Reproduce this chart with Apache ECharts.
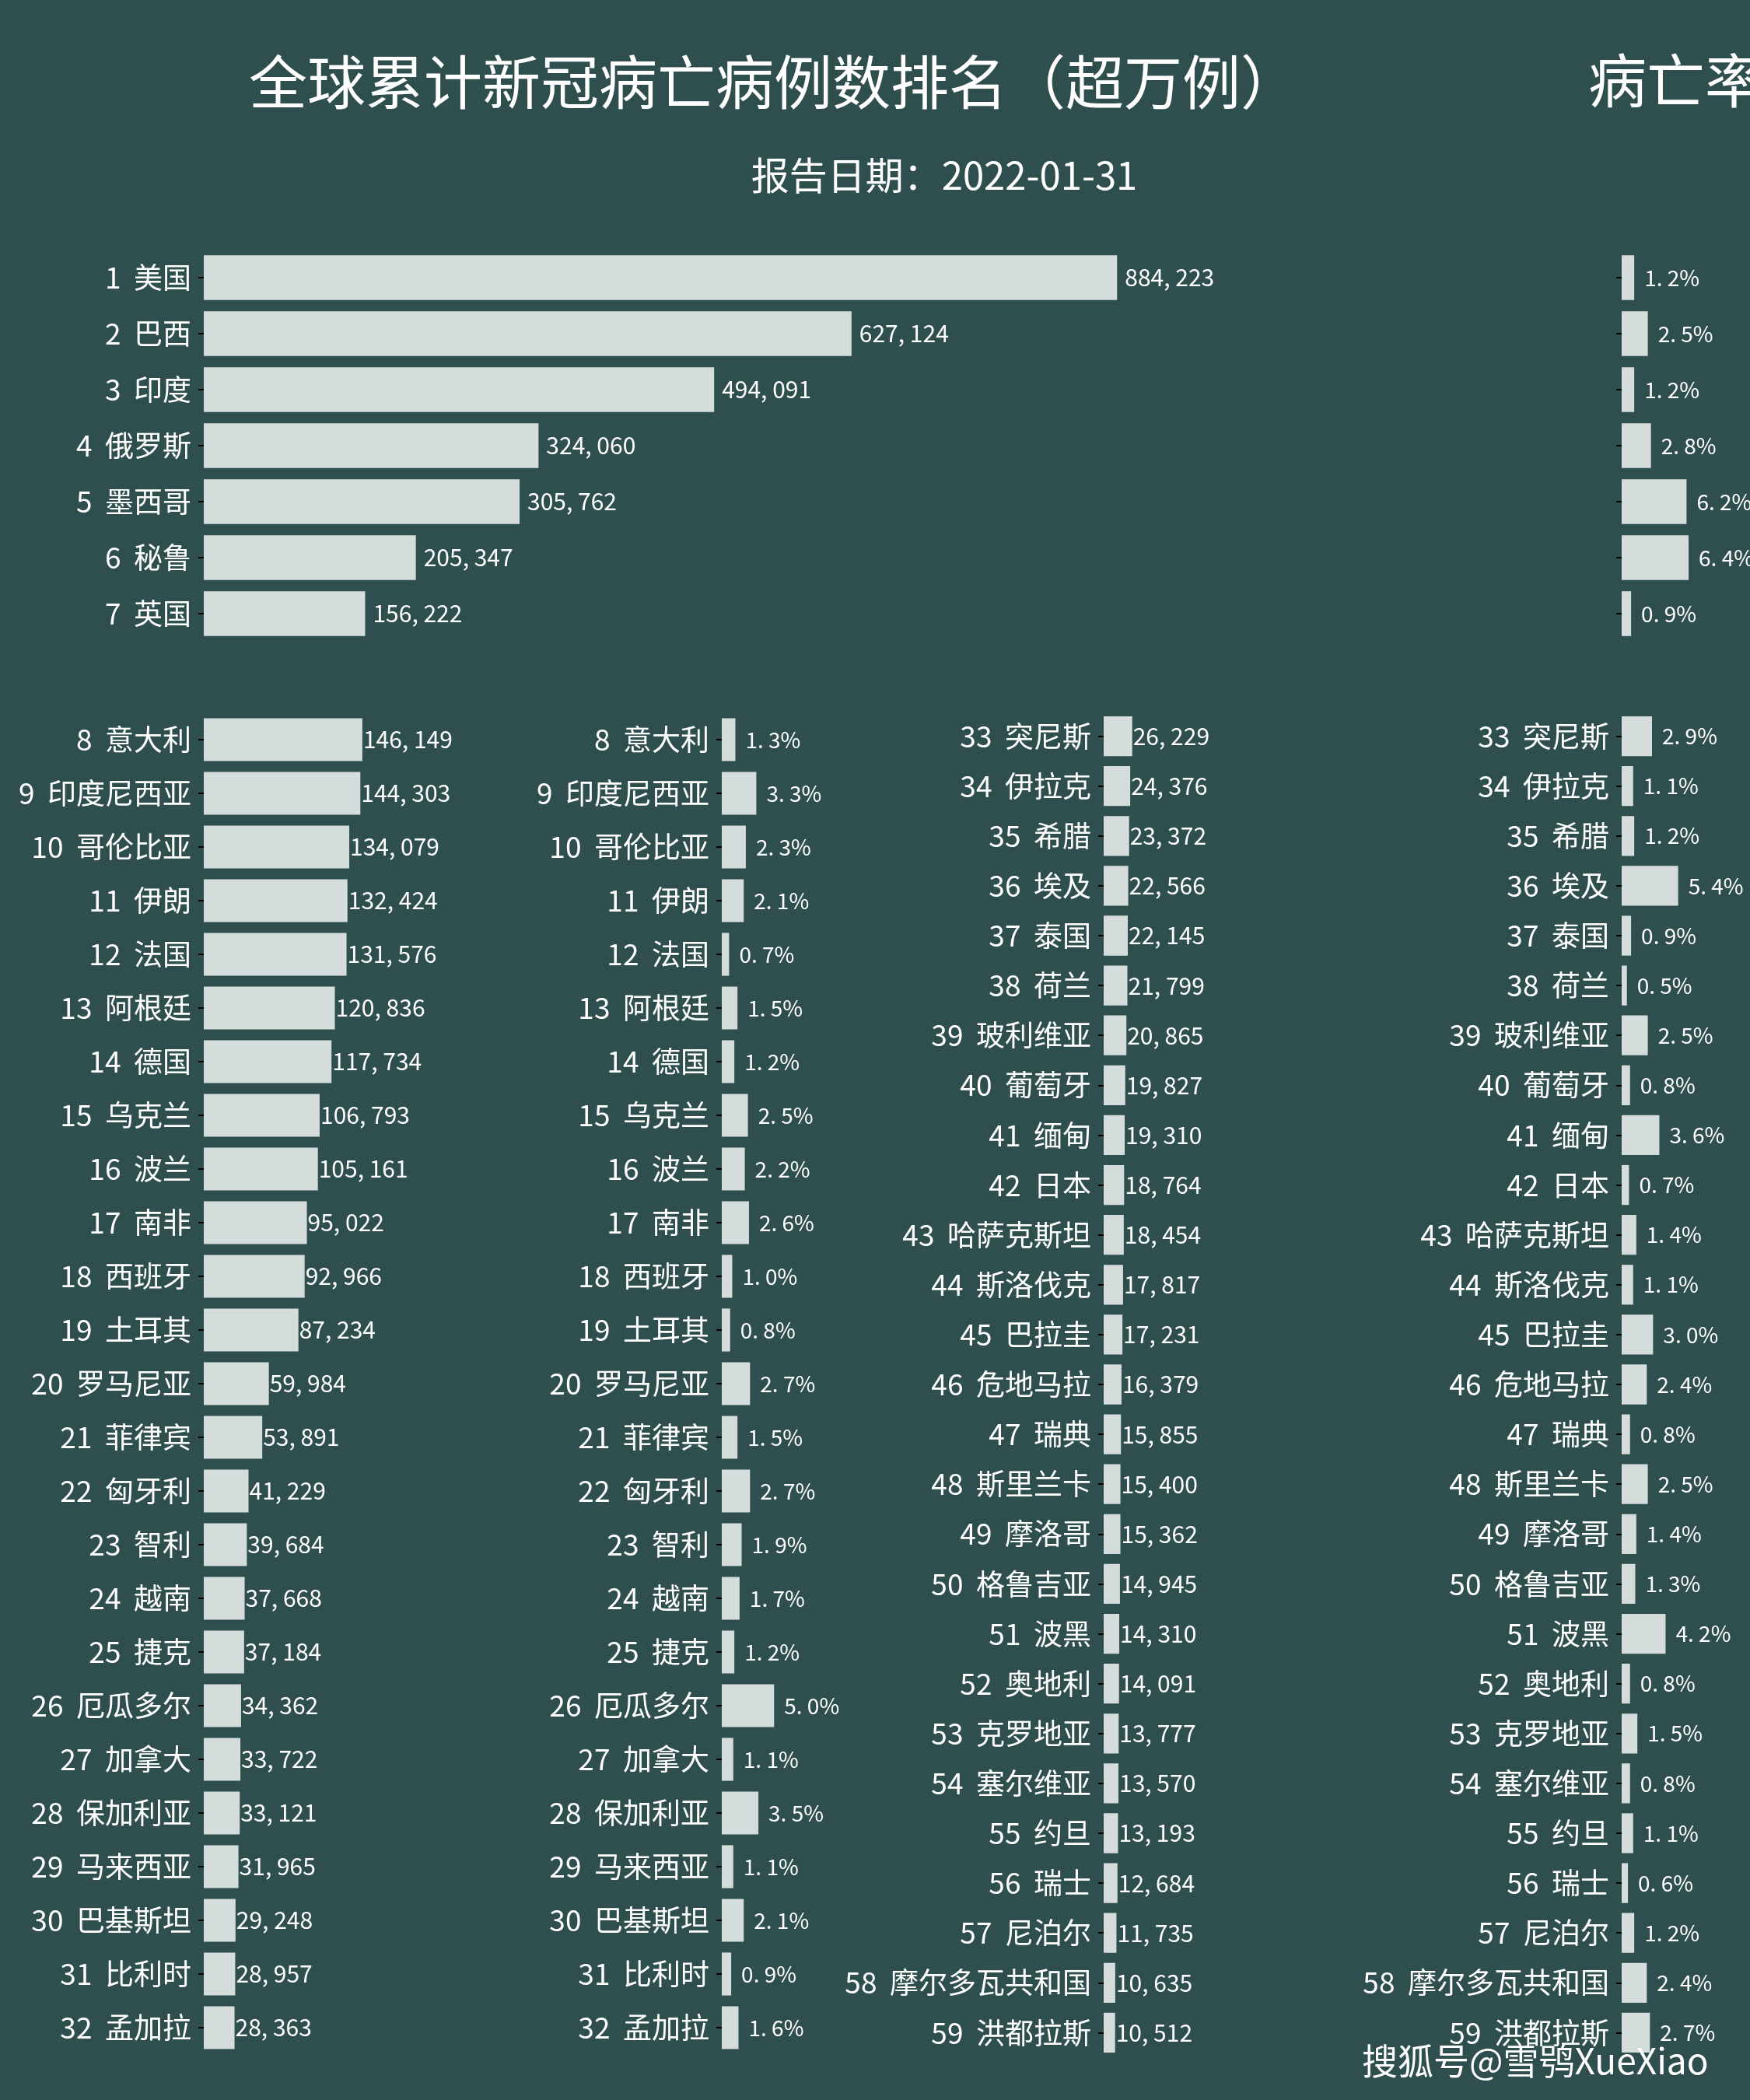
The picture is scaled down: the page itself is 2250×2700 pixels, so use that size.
<!DOCTYPE html>
<html>
<head>
<meta charset="utf-8">
<script src="https://cdn.jsdelivr.net/npm/echarts@6/dist/echarts.min.js"></script>
<style>
html,body{margin:0;padding:0;background:#2F4F4F;}
#chart{width:2250px;height:2700px;}
</style>
</head>
<body>
<div id="chart"></div>
<script>
// ---- data ----
const namesTop = ['美国','巴西','印度','俄罗斯','墨西哥','秘鲁','英国'];
const deathsTop = [884223, 627124, 494091, 324060, 305762, 205347, 156222];
const ratesTop = [1.2, 2.5, 1.2, 2.8, 6.2, 6.4, 0.9];

const namesMid = ['意大利','印度尼西亚','哥伦比亚','伊朗','法国','阿根廷','德国','乌克兰','波兰','南非','西班牙','土耳其','罗马尼亚','菲律宾','匈牙利','智利','越南','捷克','厄瓜多尔','加拿大','保加利亚','马来西亚','巴基斯坦','比利时','孟加拉'];
const deathsMid = [146149,144303,134079,132424,131576,120836,117734,106793,105161,95022,92966,87234,59984,53891,41229,39684,37668,37184,34362,33722,33121,31965,29248,28957,28363];
const ratesMid = [1.3,3.3,2.3,2.1,0.7,1.5,1.2,2.5,2.2,2.6,1.0,0.8,2.7,1.5,2.7,1.9,1.7,1.2,5.0,1.1,3.5,1.1,2.1,0.9,1.6];

const namesLow = ['突尼斯','伊拉克','希腊','埃及','泰国','荷兰','玻利维亚','葡萄牙','缅甸','日本','哈萨克斯坦','斯洛伐克','巴拉圭','危地马拉','瑞典','斯里兰卡','摩洛哥','格鲁吉亚','波黑','奥地利','克罗地亚','塞尔维亚','约旦','瑞士','尼泊尔','摩尔多瓦共和国','洪都拉斯'];
const deathsLow = [26229,24376,23372,22566,22145,21799,20865,19827,19310,18764,18454,17817,17231,16379,15855,15400,15362,14945,14310,14091,13777,13570,13193,12684,11735,10635,10512];
const ratesLow = [2.9,1.1,1.2,5.4,0.9,0.5,2.5,0.8,3.6,0.7,1.4,1.1,3.0,2.4,0.8,2.5,1.4,1.3,4.2,0.8,1.5,0.8,1.1,0.6,1.2,2.4,2.7];

const titleMain = '全球累计新冠病亡病例数排名（超万例）';
const titleRate = '病亡率';
const subTitle = '报告日期：2022-01-31';
const watermark = '搜狐号@雪鸮XueXiao';

// ---- helpers ----
const FONT = '"Noto Sans CJK SC","Noto Sans",sans-serif';
const BG = '#2F4F4F';
const BAR = '#D4DDDB';
const TXT = '#FFFFFF';

function cats(names, start){ return names.map((n,i)=> (start+i) + '  ' + n); }
function fmtNum(v){ return String(v).replace(/\B(?=(\d{3})+(?!\d))/g, ', '); }
function fmtRate(v){ return v.toFixed(1).replace('.', '. ') + '%'; }

const grids = [
  {left:262,  top:321,   width:1328,  height:504},
  {left:2085, top:321,   width:134.5, height:504},
  {left:262,  top:916.5, width:279,   height:1725},
  {left:928,  top:916.5, width:134.5, height:1725},
  {left:1419, top:914.5, width:70,    height:1731},
  {left:2085, top:914.5, width:134.5, height:1731}
];
const xMax = [1000000, 10, 200000, 10, 50000, 10];
const catData = [cats(namesTop,1), cats(namesTop,1), cats(namesMid,8), cats(namesMid,8), cats(namesLow,33), cats(namesLow,33)];
const serData = [deathsTop, ratesTop, deathsMid, ratesMid, deathsLow, ratesLow];
const isRate = [false,true,false,true,false,true];
const labelDist = [10, 13, 1, 13, 1, 13];
const showCat = [true,false,true,true,true,true];

const option = {
  backgroundColor: BG,
  animation: false,
  grid: grids.map(g => Object.assign({containLabel:false, outerBoundsMode:'none'}, g)),
  xAxis: grids.map((g,i)=>({gridIndex:i, type:'value', min:0, max:xMax[i], show:false, splitLine:{show:false}})),
  yAxis: grids.map((g,i)=>({
    gridIndex:i, type:'category', inverse:true, data:catData[i],
    axisLine:{show:false},
    axisTick:{show:true, alignWithLabel:true, length:7, lineStyle:{color:'#000', width:2}},
    axisLabel:{show:showCat[i], color:TXT, fontSize:37, fontFamily:FONT, margin:16},
    splitLine:{show:false}
  })),
  series: grids.map((g,i)=>({
    type:'bar', xAxisIndex:i, yAxisIndex:i, data:serData[i],
    barCategoryGap:'20%', silent:true,
    itemStyle:{color:BAR},
    label:{show:true, position:'right', distance:labelDist[i], color:TXT, fontSize: isRate[i] ? 28 : 30, fontFamily:FONT,
      formatter: p => isRate[i] ? fmtRate(p.value) : fmtNum(p.value)}
  })),
  graphic: [
    {type:'text', x:995, y:105, style:{text:titleMain, fill:TXT, font:'75px '+FONT, textAlign:'center', textVerticalAlign:'middle'}},
    {type:'text', x:2042, y:103, style:{text:titleRate, fill:TXT, font:'75px '+FONT, textAlign:'left', textVerticalAlign:'middle'}},
    {type:'text', x:1214, y:225, style:{text:subTitle, fill:TXT, font:'49px '+FONT, textAlign:'center', textVerticalAlign:'middle'}},
    {type:'text', x:1751, y:2650, z:100, style:{text:watermark, fill:TXT, font:'46px '+FONT, textAlign:'left', textVerticalAlign:'middle',
      textShadowColor:'#000', textShadowOffsetX:2, textShadowOffsetY:2, textShadowBlur:0}}
  ]
};

const chart = echarts.init(document.getElementById('chart'), null, {renderer:'canvas'});
chart.setOption(option);
</script>
</body>
</html>
